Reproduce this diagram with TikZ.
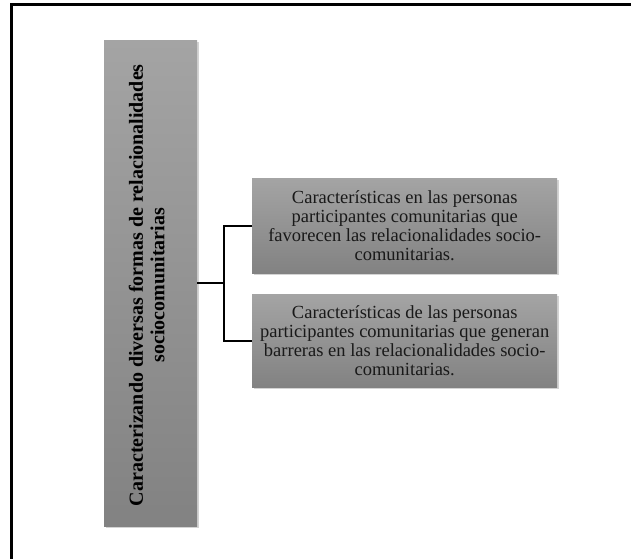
\documentclass[tikz,border=0pt]{standalone}
\usepackage{fontspec}
\setmainfont{Liberation Serif}
\usetikzlibrary{shadows}
\definecolor{boxtop}{HTML}{A4A4A4}
\definecolor{boxbot}{HTML}{828282}
\begin{document}
\begin{tikzpicture}[
  x=1pt, y=-1pt,
  every node/.style={font=\fontsize{18.5}{19.3}\selectfont},
  gbox/.style={top color=boxtop, bottom color=boxbot, inner sep=2pt,
    drop shadow={shadow xshift=1.5pt, shadow yshift=-2pt, opacity=0.35}},
  link/.style={line width=2pt},
]
\useasboundingbox (0,0) rectangle (631,559);
% frame (top and left only)
\draw[line width=3pt] (631,5) -- (11.5,5) -- (11.5,559);

\node[gbox, minimum width=93, minimum height=486, anchor=north west] (lbox) at (104,40) {};
\node[rotate=90, align=center,
  font=\bfseries\fontsize{20}{21.7}\selectfont] (ltxt) at ([xshift=-4pt, yshift=-2pt]lbox.center)
  {Caracterizando diversas formas de relacionalidades\\ sociocomunitarias};

\node[gbox, minimum width=305, minimum height=95, align=center,
  text=black!90, anchor=north west] (r1) at (252,178)
  {Características en las personas\\ participantes comunitarias que\\ favorecen las relacionalidades socio-\\ comunitarias.};
\node[gbox, minimum width=305, minimum height=93, align=center,
  text=black!90, anchor=north west] (r2) at (252,294)
  {Características de las personas\\ participantes comunitarias que generan\\ barreras en las relacionalidades socio-\\ comunitarias.};

\coordinate (fork) at (224,0 |- lbox.east);
\draw[link] (lbox.east) -- (fork);
\draw[link] (r1.west) -| (fork) |- (r2.west);
\end{tikzpicture}
\end{document}
